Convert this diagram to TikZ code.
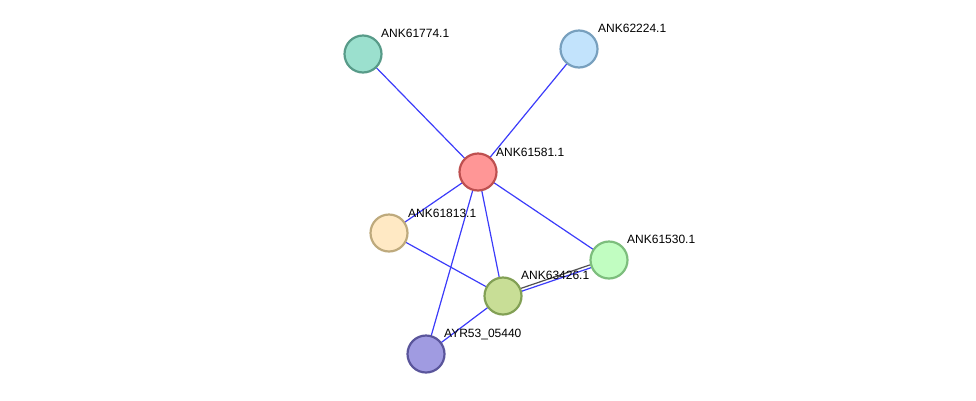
\documentclass[tikz,border=0pt]{standalone}
\usepackage{fontspec}
\setmainfont{Liberation Sans}
\usetikzlibrary{positioning, backgrounds}
\definecolor{edgeblue}{RGB}{60,60,250}
\definecolor{edgegray}{RGB}{80,80,80}
\tikzset{
    protein/.style={
        circle,
        line width=2.2pt,
        minimum size=37pt,
        inner sep=0pt
    },
    tag/.style={
        anchor=west,
        inner sep=0pt,
        font=\fontsize{12}{14}\selectfont
    },
    link/.style={
        line width=1.2pt,
        color=edgeblue
    }
}

\begin{document}
\begin{tikzpicture}[x=1pt, y=-1pt]
            \useasboundingbox (0,0) rectangle (976,400);

            % Proteins
            \node (n61774) [
                protein,
                fill={rgb,255:red,155;green,224;blue,206},
                draw={rgb,255:red,88;green,155;blue,137}
            ] at (363,54) {};
            \node (n62224) [
                protein,
                fill={rgb,255:red,194;green,227;blue,252},
                draw={rgb,255:red,120;green,160;blue,190}
            ] at (579,49) {};
            \node (n61581) [
                protein,
                fill={rgb,255:red,255;green,150;blue,150},
                draw={rgb,255:red,190;green,80;blue,80}
            ] at (478,172) {};
            \node (n61813) [
                protein,
                fill={rgb,255:red,255;green,233;blue,196},
                draw={rgb,255:red,190;green,170;blue,125}
            ] at (389,233) {};
            \node (n61530) [
                protein,
                fill={rgb,255:red,193;green,253;blue,193},
                draw={rgb,255:red,125;green,190;blue,125}
            ] at (609,260) {};
            \node (n63426) [
                protein,
                fill={rgb,255:red,200;green,222;blue,150},
                draw={rgb,255:red,130;green,160;blue,85}
            ] at (503,296) {};
            \node (nAYR53) [
                protein,
                fill={rgb,255:red,160;green,155;blue,225},
                draw={rgb,255:red,90;green,85;blue,155}
            ] at (426,354) {};

            % Labels
            \node (t61774) [tag] at ([shift={(18,-21)}]n61774.center) {ANK61774.1};
            \node (t62224) [tag] at ([shift={(19,-21)}]n62224.center) {ANK62224.1};
            \node (t61581) [tag] at ([shift={(18,-20)}]n61581.center) {ANK61581.1};
            \node (t61813) [tag] at ([shift={(19,-20)}]n61813.center) {ANK61813.1};
            \node (t61530) [tag] at ([shift={(18,-21)}]n61530.center) {ANK61530.1};
            \node (t63426) [tag] at ([shift={(18,-21)}]n63426.center) {ANK63426.1};
            \node (tAYR53) [tag] at ([shift={(18,-20)}]nAYR53.center) {AYR53\_05440};

            % Interactions
            \begin{scope}[on background layer]
                \draw [link] (n61581.center) -- (n61774.center);
                \draw [link] (n61581.center) -- (n62224.center);
                \draw [link] (n61581.center) -- (n61813.center);
                \draw [link] (n61581.center) -- (n61530.center);
                \draw [link] (n61581.center) -- (n63426.center);
                \draw [link] (n61581.center) -- (nAYR53.center);
                \draw [link] (n61813.center) -- (n63426.center);
                \draw [link] (n63426.center) -- (nAYR53.center);
                % double line
                \draw [link, color=edgegray]
                    ([shift={(-0.5,-1.4)}]n63426.center) -- ([shift={(-0.5,-1.4)}]n61530.center);
                \draw [link]
                    ([shift={(0.5,1.4)}]n63426.center) -- ([shift={(0.5,1.4)}]n61530.center);
            \end{scope}
        \end{tikzpicture}
\end{document}
